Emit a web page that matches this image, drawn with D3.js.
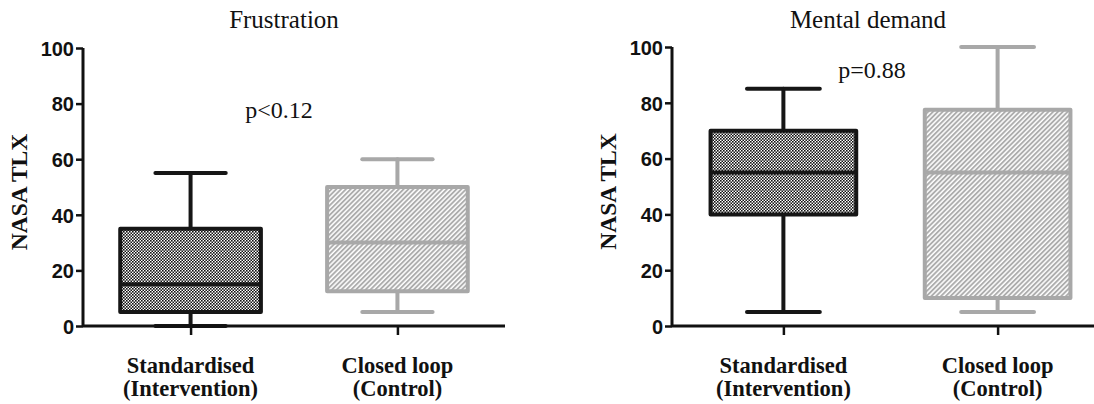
<!DOCTYPE html>
<html>
<head>
<meta charset="utf-8">
<script src="https://cdn.jsdelivr.net/npm/d3@7"></script>
<style>
  body { margin: 0; background: #fff; }
  svg { display: block; }
</style>
</head>
<body>
<svg id="chart" width="1094" height="404"></svg>
<script>
/* ---------- data ---------- */
const groups = ["Standardised (Intervention)", "Closed loop (Control)"];
const yTicks = [0, 20, 40, 60, 80, 100];
// [min, q1, median, q3, max] per group
const frustration = [
  [0, 5, 15, 35, 55],
  [5, 12.5, 30, 50, 60],
];
const mentalDemand = [
  [5, 40, 55, 70, 85],
  [5, 10, 55, 77.5, 100],
];
const panelTitles = ["Frustration", "Mental demand"];
const pLabels = ["p<0.12", "p=0.88"];
const pLabelPos = [[279, 75], [872, 89]]; // [x, value] placement for p text

const svg = d3.select("#chart");
const black = "#161616";
const grey = "#a8a8a8";

/* ---------- patterns ---------- */
const defs = svg.append("defs");
const checker = defs.append("pattern")
  .attr("id", "checker")
  .attr("width", 3).attr("height", 3)
  .attr("patternUnits", "userSpaceOnUse");
checker.append("rect").attr("width", 3).attr("height", 3).attr("fill", "#fff");
checker.append("rect").attr("width", 1.6).attr("height", 1.6).attr("fill", "#111");
checker.append("rect").attr("x", 1.5).attr("y", 1.5).attr("width", 1.6).attr("height", 1.6).attr("fill", "#111");

const hatch = defs.append("pattern")
  .attr("id", "hatch")
  .attr("width", 3.4).attr("height", 3.4)
  .attr("patternUnits", "userSpaceOnUse")
  .attr("patternTransform", "rotate(45)");
hatch.append("rect").attr("width", 3.4).attr("height", 3.4).attr("fill", "#fff");
hatch.append("line")
  .attr("x1", 1).attr("y1", 0).attr("x2", 1).attr("y2", 3.4)
  .attr("stroke", grey).attr("stroke-width", 1.8);

const styles = [
  { stroke: black, fill: "url(#checker)" },
  { stroke: grey, fill: "url(#hatch)" },
];

/* ---------- panels ---------- */
const panels = [
  { data: frustration, xRange: [83, 505], yRange: [326, 48], titleX: 284 },
  { data: mentalDemand, xRange: [672, 1109], yRange: [326, 47], titleX: 868 },
];

panels.forEach((p, pi) => {
  const x = d3.scalePoint().domain(groups).range(p.xRange).padding(0.52);
  const y = d3.scaleLinear().domain([0, 100]).range(p.yRange);
  const boxW = x.step() * 0.68;
  const capW = boxW / 2;
  const g = svg.append("g");

  // title
  g.append("text")
    .attr("x", p.titleX).attr("y", 28)
    .attr("text-anchor", "middle")
    .style("font-family", "'Liberation Serif', 'Times New Roman', serif")
    .style("font-size", "25px")
    .attr("fill", "#111")
    .text(panelTitles[pi]);

  // y axis label
  g.append("text")
    .attr("transform", `translate(${p.xRange[0] - 56},${(p.yRange[0] + p.yRange[1]) / 2 + 5}) rotate(-90)`)
    .attr("text-anchor", "middle")
    .style("font-family", "'Liberation Serif', 'Times New Roman', serif")
    .style("font-weight", "bold")
    .style("font-size", "23.5px")
    .attr("fill", "#111")
    .text("NASA TLX");

  // boxes
  p.data.forEach((d, i) => {
    const [mn, q1, med, q3, mx] = d;
    const cx = x(groups[i]);
    const st = styles[i];
    const bg = g.append("g")
      .attr("stroke", st.stroke)
      .attr("stroke-width", 4)
      .attr("stroke-linecap", "round");
    bg.append("line").attr("x1", cx).attr("x2", cx).attr("y1", y(mx)).attr("y2", y(q3));
    bg.append("line").attr("x1", cx).attr("x2", cx).attr("y1", y(q1)).attr("y2", y(mn));
    bg.append("line").attr("x1", cx - capW / 2).attr("x2", cx + capW / 2).attr("y1", y(mx)).attr("y2", y(mx));
    bg.append("line").attr("x1", cx - capW / 2).attr("x2", cx + capW / 2).attr("y1", y(mn)).attr("y2", y(mn));
    bg.append("rect")
      .attr("x", cx - boxW / 2).attr("width", boxW)
      .attr("y", y(q3)).attr("height", y(q1) - y(q3))
      .attr("fill", st.fill)
      .attr("stroke-linejoin", "round");
    bg.append("line").attr("x1", cx - boxW / 2).attr("x2", cx + boxW / 2).attr("y1", y(med)).attr("y2", y(med))
      .attr("stroke-linecap", "butt");
  });

  // y axis
  const yAxis = g.append("g")
    .attr("transform", `translate(${p.xRange[0]},0)`)
    .call(d3.axisLeft(y).tickValues(yTicks).tickSize(7).tickPadding(2));
  yAxis.select(".domain").attr("stroke", "#111").attr("stroke-width", 3)
    .attr("d", `M0,${p.yRange[0]}V${p.yRange[1]}`);
  yAxis.selectAll(".tick line").attr("stroke", "#111").attr("stroke-width", 2.5);
  yAxis.selectAll(".tick text")
    .attr("fill", "#111")
    .style("font-family", "'Liberation Sans', Arial, sans-serif")
    .style("font-weight", "bold")
    .style("font-size", "20px")
    .attr("dy", "0.36em");

  // x axis
  const xAxis = g.append("g")
    .attr("transform", `translate(0,${p.yRange[0]})`)
    .call(d3.axisBottom(x).tickSize(9).tickFormat(""));
  xAxis.select(".domain").attr("stroke", "#111").attr("stroke-width", 3)
    .attr("d", `M${p.xRange[0]},0H${p.xRange[1]}`);
  xAxis.selectAll(".tick line").attr("stroke", "#111").attr("stroke-width", 2.5);

  // category labels (two lines)
  groups.forEach((name, i) => {
    const parts = name.split(" (");
    [parts[0], "(" + parts[1]].forEach((line, li) => {
      g.append("text")
        .attr("x", x(name)).attr("y", 373 + li * 23)
        .attr("text-anchor", "middle")
        .style("font-family", "'Liberation Serif', 'Times New Roman', serif")
        .style("font-weight", "bold")
        .style("font-size", "22.5px")
        .attr("fill", "#111")
        .text(line);
    });
  });

  // p value
  g.append("text")
    .attr("x", pLabelPos[pi][0]).attr("y", y(pLabelPos[pi][1]))
    .attr("text-anchor", "middle")
    .style("font-family", "'Liberation Serif', 'Times New Roman', serif")
    .style("font-size", "24px")
    .attr("fill", "#111")
    .text(pLabels[pi]);
});
</script>
</body>
</html>
